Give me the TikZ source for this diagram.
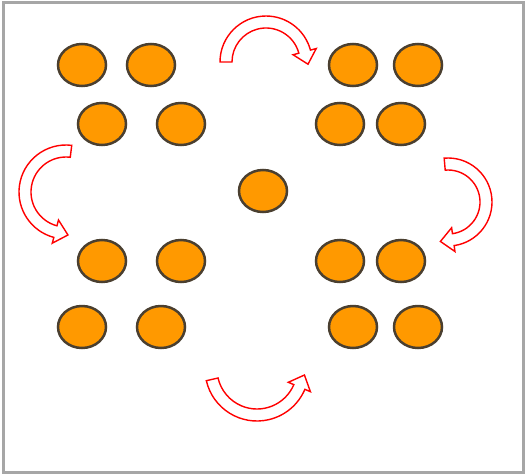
\documentclass[tikz,border=0pt]{standalone}
\usepackage{tikz}
\usetikzlibrary{shapes.geometric,calc}
\definecolor{TokenFill}{HTML}{FF9900}
\definecolor{TokenLine}{HTML}{4A3F30}
\definecolor{FrameGray}{HTML}{A6A6A6}
\tikzset{token/.style={ellipse,draw=TokenLine,fill=TokenFill,line width=2.5pt,
                       minimum width=48pt,minimum height=42pt,inner sep=0pt},
         turnarrow/.style={draw=red,fill=white,line width=1.4pt,line join=miter}}
% hollow bent arrow: centre, radius, start angle, end angle, turn sign (+1 ccw, -1 cw)
\newcommand{\bentarrow}[5]{%
  \draw[turnarrow] ($(#1)+(#3:#2+6)$) arc[start angle=#3,end angle=#4,radius=#2+6]
    -- ($(#1)+(#4:#2+12)$) -- ($(#1)+(#4:#2)+({#4+#5*90}:13)$)
    -- ($(#1)+(#4:#2-12)$) -- ($(#1)+(#4:#2-6)$)
    arc[start angle=#4,end angle=#3,radius=#2-6] -- cycle;}

\begin{document}
\begin{tikzpicture}[x=1pt,y=1pt]
  \useasboundingbox (0,0) rectangle (526,475);
  \draw[FrameGray,line width=3pt] (3,3) rectangle (523,472);

  % top left group
  \node[token] (tl1) at (82,410) {};
  \node[token] (tl2) at (151,410) {};
  \node[token] (tl3) at (102,351) {};
  \node[token] (tl4) at (181,351) {};
  % top right group
  \node[token] (tr1) at (353,410) {};
  \node[token] (tr2) at (418,410) {};
  \node[token] (tr3) at (340,351) {};
  \node[token] (tr4) at (401,351) {};
  % centre
  \node[token] (mid) at (263,284) {};
  % bottom left group
  \node[token] (bl1) at (102,214) {};
  \node[token] (bl2) at (181,214) {};
  \node[token] (bl3) at (82,148) {};
  \node[token] (bl4) at (161,148) {};
  % bottom right group
  \node[token] (br1) at (340,214) {};
  \node[token] (br2) at (401,214) {};
  \node[token] (br3) at (353,148) {};
  \node[token] (br4) at (418,148) {};

  % turning arrows
  \coordinate (topturn) at (266,413);
  \coordinate (leftturn) at (66,283);
  \coordinate (rightturn) at (448,273);
  \coordinate (bottomturn) at (257,106);
  \bentarrow{topturn}{40}{180}{15}{-1}
  \bentarrow{leftturn}{41}{83}{255}{1}
  \bentarrow{rightturn}{38}{95}{-82}{-1}
  \bentarrow{bottomturn}{46}{193}{337}{1}
\end{tikzpicture}
\end{document}
